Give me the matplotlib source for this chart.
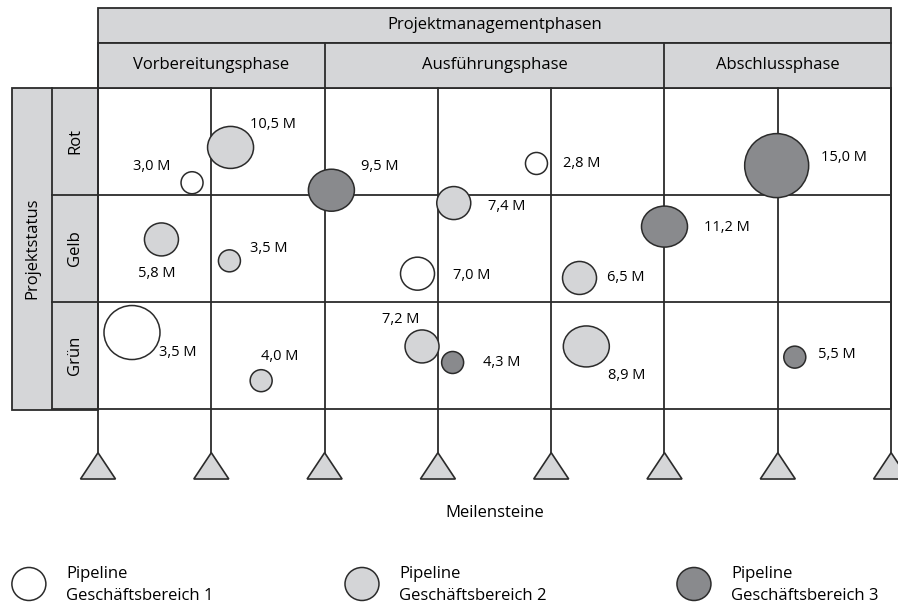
import matplotlib
matplotlib.use("Agg")
import matplotlib.pyplot as plt
from matplotlib.patches import Ellipse, Rectangle, Polygon

plt.rcParams['font.family'] = ['Open Sans', 'DejaVu Sans']

# Data: milestone index on x (0..7), project status on y (0 = bottom of "Grün", 3 = top of "Rot")
phases = ["Vorbereitungsphase", "Ausführungsphase", "Abschlussphase"]
phase_bounds = [0, 2, 5, 7]
status = ["Grün", "Gelb", "Rot"]
milestones = [0, 1, 2, 3, 4, 5, 6, 7]

labels = ["3,0 M", "10,5 M", "9,5 M", "2,8 M", "15,0 M", "7,4 M", "5,8 M", "3,5 M",
          "7,0 M", "11,2 M", "6,5 M", "3,5 M", "4,0 M", "7,2 M", "4,3 M", "8,9 M", "5,5 M"]
bubble_x = [0.83, 1.17, 2.06, 3.87, 5.99, 3.14, 0.56, 1.16,
            2.82, 5.00, 4.25, 0.30, 1.44, 2.86, 3.13, 4.31, 6.15]
bubble_y = [2.11, 2.44, 2.04, 2.29, 2.27, 1.92, 1.58, 1.38,
            1.26, 1.70, 1.22, 0.71, 0.26, 0.58, 0.43, 0.58, 0.48]
# bubble diameters (pixels, width / height)
bubble_w = [22, 46, 46, 22, 64, 34, 34, 22, 34, 46, 34, 56, 22, 34, 22, 46, 22]
bubble_h = [22, 42, 42, 22, 64, 33, 33, 22, 33, 41, 33, 54, 22, 33, 22, 41, 22]
area = [1, 2, 3, 1, 3, 2, 2, 2, 1, 3, 2, 1, 2, 2, 3, 2, 3]   # Geschäftsbereich
label_x = [0.47, 1.54, 2.49, 4.27, 6.58, 3.61, 0.52, 1.51,
           3.30, 5.55, 4.66, 0.70, 1.60, 2.67, 3.56, 4.67, 6.52]
label_y = [2.26, 2.65, 2.26, 2.29, 2.35, 1.89, 1.26, 1.50,
           1.24, 1.69, 1.22, 0.52, 0.49, 0.83, 0.43, 0.31, 0.50]

area_colors = {1: "white", 2: "#d4d5d7", 3: "#898a8d"}
legend_names = ["Pipeline\nGeschäftsbereich 1", "Pipeline\nGeschäftsbereich 2",
                "Pipeline\nGeschäftsbereich 3"]

# pixel scale of the data units
px_x = 113.3
px_y = 107.0
line_col = "#2b2b2b"
head_col = "#d5d6d8"
fs = 12

fig = plt.figure(figsize=(8.98, 6.08), dpi=100)
ax = fig.add_axes([0, 0, 1, 1])
ax.set_xlim(-98 / px_x, 800 / px_x)
ax.set_ylim(-199.5 / px_y, 408.5 / px_y)
ax.axis("off")

# header
top1, top0 = 3.743, 3.416
ax.add_patch(Rectangle((0, top0), 7, top1 - top0, fc=head_col, ec=line_col, lw=1.3))
ax.add_patch(Rectangle((0, 3), 7, top0 - 3, fc=head_col, ec=line_col, lw=1.3))
ax.text(3.5, (top0 + top1) / 2, "Projektmanagementphasen", ha="center", va="center", fontsize=fs)
for i, ph in enumerate(phases):
    a, b = phase_bounds[i], phase_bounds[i + 1]
    ax.plot([a, a], [3, top0], color=line_col, lw=1.3)
    ax.text((a + b) / 2, (3 + top0) / 2, ph, ha="center", va="center", fontsize=fs)

# status column
xl0, xl1 = -0.759, -0.406
ax.add_patch(Rectangle((xl0, -0.015), 0 - xl0, 3.015, fc=head_col, ec=line_col, lw=1.3))
ax.plot([xl1, xl1], [0, 3], color=line_col, lw=1.3)
ax.text((xl0 + xl1) / 2, 1.5, "Projektstatus", rotation=90, ha="center", va="center", fontsize=fs)
for j, s in enumerate(status):
    ax.plot([xl1, 0], [j, j], color=line_col, lw=1.3)
    ax.text(xl1 / 2, j + 0.5, s, rotation=90, ha="center", va="center", fontsize=fs)

# grid
ax.add_patch(Rectangle((0, 0), 7, 3, fc="white", ec=line_col, lw=1.3, zorder=0.5))
for j in [1, 2]:
    ax.plot([0, 7], [j, j], color=line_col, lw=1.3, zorder=1)

# milestones
apex = -0.413
base = -0.659
hw = 17.5 / px_x
for m in milestones:
    ax.plot([m, m], [3, apex], color=line_col, lw=1.3, zorder=1)
    ax.add_patch(Polygon([(m - hw, base), (m, apex), (m + hw, base)], closed=True,
                         fc=head_col, ec=line_col, lw=1.2, zorder=2))
ax.text(3.5, -0.98, "Meilensteine", ha="center", va="center", fontsize=fs)

# bubbles
for i in range(len(labels)):
    ax.add_patch(Ellipse((bubble_x[i], bubble_y[i]), bubble_w[i] / px_x, bubble_h[i] / px_y,
                         fc=area_colors[area[i]], ec=line_col, lw=1.1, zorder=3))
    ax.text(label_x[i], label_y[i], labels[i], ha="center", va="center", fontsize=10.5, zorder=4)

# legend
leg_x = [-0.61, 2.33, 5.26]
for k, name in enumerate(legend_names):
    ax.add_patch(Ellipse((leg_x[k], -1.64), 34 / px_x, 33 / px_y,
                         fc=area_colors[k + 1], ec=line_col, lw=1.1))
    ax.text(leg_x[k] + 0.33, -1.65, name, ha="left", va="center", fontsize=fs, linespacing=1.55)

fig.savefig("out.png", dpi=100)
